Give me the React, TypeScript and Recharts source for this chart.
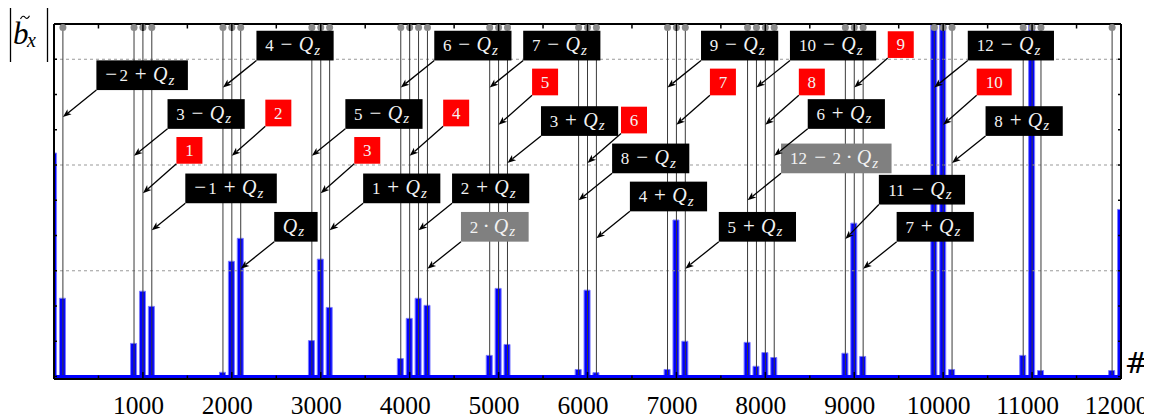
import React from 'react';
import { ComposedChart, Bar, XAxis, YAxis, ReferenceLine, ReferenceDot } from 'recharts';

// bar positions (#) and heights |b_x|
const barPos = [0, 100, 900, 1000, 1100, 1900, 2000, 2100, 2900, 3000, 3100, 3900, 4000, 4100, 4200,
  4900, 5000, 5100, 5900, 6000, 6100, 6900, 7000, 7100, 7800, 7900, 8000, 8100, 8900, 9000, 9100,
  9900, 10000, 10100, 10900, 11000, 11100, 11900, 12000];
const barVal = [6.34, 2.22, 0.94, 2.42, 1.99, 0.12, 3.27, 3.92, 1.02, 3.33, 1.96, 0.51, 1.65, 2.22, 2.02,
  0.6, 2.5, 0.91, 0.2, 2.45, 0.11, 0.2, 4.44, 1.0, 0.97, 0.29, 0.68, 0.54, 0.66, 4.35, 0.57,
  12, 12, 0.2, 0.6, 12, 0.17, 0.17, 4.74];

// marked positions (vertical lines with pins on top)
const markPos = [100, 900, 1000, 1100, 1900, 2000, 2100, 2900, 3000, 3100, 3900, 4000, 4100, 4200,
  4900, 5000, 5100, 5900, 6000, 6100, 6900, 7000, 7100, 7800, 7900, 8000, 8100, 8900, 9000, 9100,
  9900, 10000, 10100, 10900, 11000, 11100, 11900];

// callouts
const annText = ['−2 + Q_z', '3 − Q_z', '1', '−1 + Q_z', '4 − Q_z', '2', 'Q_z', '5 − Q_z', '3', '1 + Q_z',
  '6 − Q_z', '4', '2 + Q_z', '2 · Q_z', '7 − Q_z', '5', '3 + Q_z', '8 − Q_z', '6', '4 + Q_z',
  '9 − Q_z', '7', '5 + Q_z', '12 − 2 · Q_z', '10 − Q_z', '8', '6 + Q_z', '11 − Q_z', '9', '7 + Q_z',
  '12 − Q_z', '10', '8 + Q_z'];
const annX = [100, 900, 1000, 1100, 1900, 2000, 2100, 2900, 3000, 3100,
  3900, 4000, 4100, 4200, 4900, 5000, 5100, 5900, 6000, 6100,
  6900, 7000, 7100, 7800, 7900, 8000, 8100, 8900, 9000, 9100,
  9900, 10000, 10100];
const annY = [7.36, 6.26, 5.2, 4.15, 8.2, 6.26, 3.06, 6.26, 5.2, 4.15,
  8.2, 6.26, 4.15, 3.06, 8.2, 7.14, 6.06, 5.0, 6.06, 3.92,
  8.2, 7.14, 3.06, 5.0, 8.2, 7.14, 6.26, 3.9, 8.2, 3.06,
  8.2, 7.14, 6.06];
const annKind = ['black', 'black', 'red', 'black', 'black', 'red', 'black', 'black', 'red', 'black',
  'black', 'red', 'black', 'gray', 'black', 'red', 'black', 'black', 'red', 'black',
  'black', 'red', 'black', 'gray', 'black', 'red', 'black', 'black', 'red', 'black',
  'black', 'red', 'black'];

const xTicks = [0, 500, 1000, 1500, 2000, 2500, 3000, 3500, 4000, 4500, 5000, 5500, 6000, 6500,
  7000, 7500, 8000, 8500, 9000, 9500, 10000, 10500, 11000, 11500, 12000];
const yTicks = [0, 1, 2, 3, 4, 5, 6, 7, 8, 9, 10];
const gridY = [3, 6, 9];

const data = barPos.map((x, i) => ({ x, v: barVal[i] }));

const SERIF = "Liberation Serif";
const boxRaise: Record<string, number> = { '11 − Q_z': 7.5 };

type Glyph = { ch: string; x: number; size: number; italic?: boolean; drop?: number; anchor: 'start' | 'middle' };

function typeset(text: string) {
  const out: Glyph[] = [];
  let cur = 0;
  for (const tok of text.split(' ')) {
    if (tok === 'Q_z') {
      out.push({ ch: 'Q', x: cur - 0.5, size: 20, italic: true, anchor: 'start' });
      out.push({ ch: 'z', x: cur + 15, size: 15, italic: true, drop: 3.5, anchor: 'start' });
      cur += 24;
    } else if (tok === '+' || tok === '−') {
      out.push({ ch: tok, x: cur + 13, size: 21, anchor: 'middle' });
      cur += 25.8;
    } else if (tok === '·') {
      out.push({ ch: '·', x: cur + 8.2, size: 22, anchor: 'middle' });
      cur += 16.3;
    } else {
      let num = tok;
      if (num.startsWith('−')) {
        out.push({ ch: '−', x: cur + 5.85, size: 21, anchor: 'middle' });
        cur += 14.3;
        num = num.slice(1);
      }
      const w = num.length * 9 - 1;
      out.push({ ch: num, x: cur + w / 2, size: 17, anchor: 'middle' });
      cur += w;
    }
  }
  return { glyphs: out, width: cur };
}

function Callout({ cx, cy, text, kind }: { cx: number; cy: number; text: string; kind: string }) {
  const red = kind === 'red';
  const { glyphs, width } = typeset(text);
  const padL = 9;
  const padR = red ? 9 : 10.4;
  const boxW = padL + width + padR;
  const boxH = red ? 26.7 : 29.7;
  const bx = cx + 33.5;
  const by = cy - (red ? 29.5 : 27) - (boxRaise[text] || 0);
  const fill = red ? '#ff0000' : kind === 'gray' ? '#808080' : '#000000';
  const base = by - (red ? 7.6 : 9);
  const ang = Math.atan2(cy - by, cx - bx);
  const L = 8.5;
  const hw = 3.3;
  const backX = cx - L * Math.cos(ang);
  const backY = cy - L * Math.sin(ang);
  const px = -Math.sin(ang) * hw;
  const py = Math.cos(ang) * hw;
  return (
    <g>
      <line x1={bx} y1={by} x2={backX + 2 * Math.cos(ang)} y2={backY + 2 * Math.sin(ang)} stroke="#000" strokeWidth={1.3} />
      <polygon points={`${cx},${cy} ${backX + px},${backY + py} ${backX + 2.2 * Math.cos(ang)},${backY + 2.2 * Math.sin(ang)} ${backX - px},${backY - py}`} fill="#000" />
      <rect x={bx} y={by - boxH} width={boxW} height={boxH} fill={fill} />
      {glyphs.map((g, k) => (
        <text key={k} x={bx + padL + g.x} y={base + (g.drop || 0)} textAnchor={g.anchor} fontFamily={SERIF}
          fontSize={g.size} fontStyle={g.italic ? 'italic' : 'normal'} fill="#f2f2f2">{g.ch}</text>
      ))}
    </g>
  );
}

function Pin({ cx, cy }: { cx: number; cy: number }) {
  return <circle cx={cx} cy={cy + 3.6} r={3.5} fill="#8a8a8a" />;
}

function BottomTick({ x, y, payload }: any) {
  const major = payload.value % 1000 === 0;
  return (
    <g>
      <line x1={x} x2={x} y1={y} y2={y - (major ? 7 : 3.5)} stroke="#000" strokeWidth={1.5} />
      {major && payload.value > 0 && (
        <text x={x - 4.5} y={y + 34.5} textAnchor="middle" fontFamily={SERIF} fontSize={25.5} fill="#000">{payload.value}</text>
      )}
    </g>
  );
}

function TopTick({ x, y, payload }: any) {
  const major = payload.value % 1000 === 0;
  return <line x1={x} x2={x} y1={y} y2={y + (major ? 7 : 4.5)} stroke="#000" strokeWidth={1.5} />;
}

function LeftTick({ x, y }: any) {
  return <line x1={x} x2={x + 3} y1={y} y2={y} stroke="#000" strokeWidth={1.5} />;
}

function RightTick({ x, y }: any) {
  return <line x1={x} x2={x - 3} y1={y} y2={y} stroke="#000" strokeWidth={1.5} />;
}

export default function App() {
  const frame = { stroke: '#000', strokeWidth: 2 };
  return (
    <div style={{ position: 'relative', width: 1144, height: 411 }}>
      <ComposedChart width={1144} height={411} data={data} margin={{ top: 15, right: 30, bottom: 39, left: 45 }}>
        <XAxis type="number" dataKey="x" domain={[0, 12000]} allowDataOverflow ticks={xTicks} interval={0}
          height={1} tickSize={0} tickMargin={0} tickLine={false} axisLine={frame}
          tick={(p: any) => <BottomTick {...p} />} />
        <XAxis xAxisId="top" orientation="top" type="number" dataKey="x" domain={[0, 12000]} allowDataOverflow
          ticks={xTicks} interval={0} height={1} tickSize={0} tickMargin={0} tickLine={false} axisLine={frame}
          tick={(p: any) => <TopTick {...p} />} />
        <YAxis type="number" domain={[-0.07, 10]} allowDataOverflow ticks={yTicks} interval={0} width={1}
          tickSize={0} tickMargin={0} tickLine={false} axisLine={frame} tick={(p: any) => <LeftTick {...p} />} />
        <YAxis yAxisId="right" orientation="right" type="number" domain={[-0.07, 10]} allowDataOverflow
          ticks={yTicks} interval={0} width={1} tickSize={0} tickMargin={0} tickLine={false} axisLine={frame}
          tick={(p: any) => <RightTick {...p} />} />
        {gridY.map(g => (
          <ReferenceLine key={`g${g}`} y={g} stroke="#999" strokeDasharray="3 3" strokeWidth={1} />
        ))}
        {markPos.map(p => (
          <ReferenceLine key={`m${p}`} x={p} stroke="#3a3a3a" strokeWidth={1} />
        ))}
        <Bar dataKey="v" barSize={6} fill="#0000ff" stroke="#7b7bff" strokeWidth={1} isAnimationActive={false} />
        <ReferenceLine y={0} stroke="#0000ff" strokeWidth={3} />
        {markPos.map(p => (
          <ReferenceDot key={`d${p}`} x={p} y={10} r={3.5} shape={(s: any) => <Pin cx={s.cx} cy={s.cy} />} />
        ))}
        {annText.map((t, i) => (
          <ReferenceDot key={`a${i}`} x={annX[i]} y={annY[i]} r={1}
            shape={(s: any) => <Callout cx={s.cx} cy={s.cy} text={t} kind={annKind[i]} />} />
        ))}
      </ComposedChart>
      <svg width={1152} height={419} style={{ position: 'absolute', left: -8, top: -8, pointerEvents: 'none' }}>
        <line x1={10.5} x2={10.5} y1={5} y2={62} stroke="#000" strokeWidth={1.3} />
        <line x1={47.5} x2={47.5} y1={5} y2={62} stroke="#000" strokeWidth={1.3} />
        <text x={13} y={44} fontFamily={SERIF} fontStyle="italic" fontSize={31} fill="#000">b</text>
        <text x={27} y={47} fontFamily={SERIF} fontStyle="italic" fontSize={20} fill="#000">x</text>
        <path d="M20.5,19 C22,15.5 24,15.8 25,17.3 C26,18.8 28,19.2 29.5,15.8" fill="none" stroke="#000" strokeWidth={1.1} />
        <text x={1136.5} y={373} textAnchor="middle" fontFamily="DejaVu Serif" fontSize={28} fill="#000">#</text>
      </svg>
    </div>
  );
}
